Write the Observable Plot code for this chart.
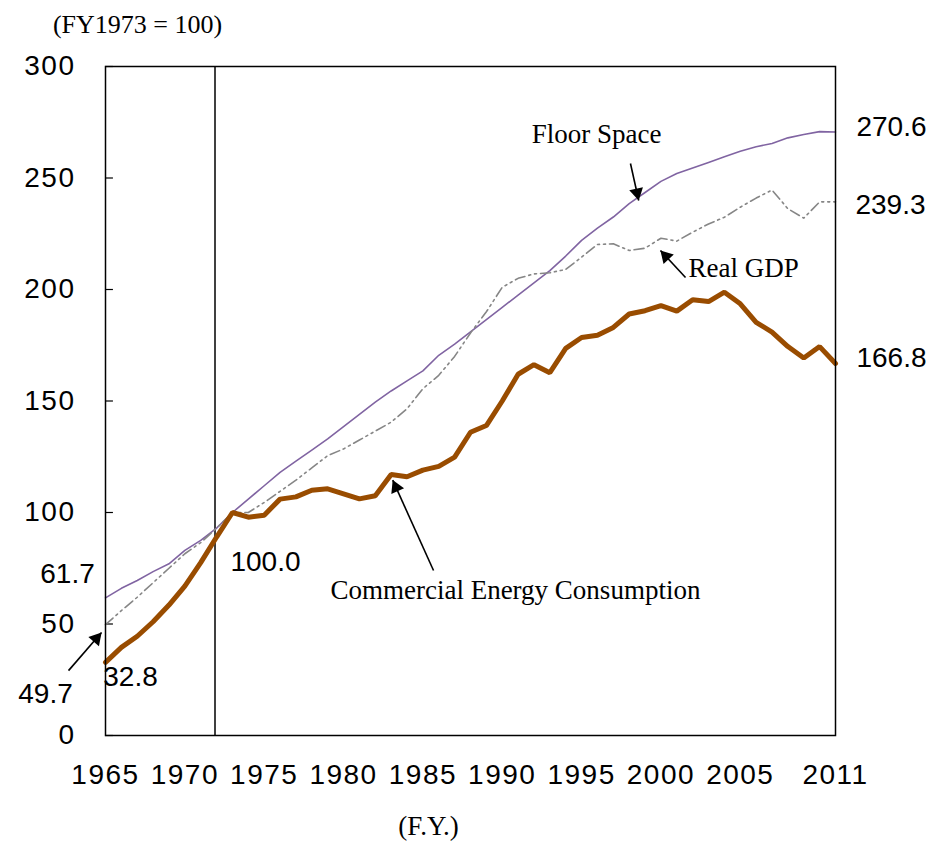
<!DOCTYPE html>
<html>
<head>
<meta charset="utf-8">
<script src="https://cdn.jsdelivr.net/npm/d3@7"></script>
<script src="https://cdn.jsdelivr.net/npm/@observablehq/plot@0.6"></script>
<style>
  html, body { margin: 0; padding: 0; background: #fff; }
  g[aria-label="value labels"] text,
  g[aria-label="y-axis tick label"] text,
  g[aria-label="x-axis tick label"] text { letter-spacing: 1.5px; }
</style>
</head>
<body>
<div id="chart"></div>
<script>
// ---- data (FY1973 = 100) ----
const years = d3.range(1965, 2012);
const floorSpace = [61.7, 66, 69.5, 73.5, 77, 83, 87.5, 93, 100, 106, 112, 118, 123, 128, 133, 138.5, 144, 149.5, 154.5, 159, 163.5, 170.5, 175.5, 181, 186.5, 192, 197.5, 203, 208.5, 215, 222, 227.5, 232.5, 238.5, 243.5, 248.5, 252, 254.5, 257, 259.5, 262, 264, 265.5, 268, 269.5, 270.8, 270.6];
const realGDP = [49.7, 56, 62, 68.5, 75, 81.5, 86.5, 93, 100, 100, 104.5, 109.5, 114.5, 120, 125.5, 128.5, 132.5, 136.5, 140.5, 146.5, 155.5, 161.5, 170, 180.5, 190, 201, 205, 207, 207.5, 209, 214.5, 220.2, 220.5, 217.5, 218.5, 223, 221.7, 225.7, 229.4, 232.4, 236.9, 241, 244.6, 236.2, 232, 239.3, 239.3];
const energy = [32.8, 39.5, 44.5, 51, 58.5, 67, 77.5, 89, 100, 97.9, 98.8, 106, 107, 110, 110.6, 108.4, 106.1, 107.5, 117, 116, 119, 120.7, 124.8, 136, 139, 150, 162, 166.3, 162.7, 173.6, 178.5, 179.5, 183, 189, 190.5, 192.8, 190.3, 195.4, 194.6, 198.8, 193.6, 185.3, 180.9, 174.4, 169.3, 174.4, 166.8];
const yTicks = [0, 50, 100, 150, 200, 250, 300];
const xTicks = [1965, 1970, 1975, 1980, 1985, 1990, 1995, 2000, 2005, 2011];
const seriesNames = ["Floor Space", "Real GDP", "Commercial Energy Consumption"];
const baseYear = 1973;
const markerYear = 1971.9;

const W = 937, H = 841, mL = 105, mR = 102, mT = 66, mB = 106;
const xDomain = [1965, 2011], yDomain = [0, 300];
const xs = Plot.scale({x: {domain: xDomain, range: [mL, W - mR]}});
const ys = Plot.scale({y: {domain: yDomain, range: [H - mB, mT]}});

const rows = arr => years.map((year, i) => ({year, value: arr[i]}));
const fmt = d3.format(".1f");
const last = years.length - 1;
const iBase = years.indexOf(baseYear);
const serif = "'Liberation Serif', 'Times New Roman', serif";

function valueLabel(year, value, dx, dy) {
  return Plot.text([{year, value}], {
    x: "year", y: "value", text: d => fmt(d.value), dx, dy,
    fontSize: 28, textAnchor: "middle", ariaLabel: "value labels"
  });
}
// arrow with a filled triangular head
function arrow(x1, y1, x2, y2) {
  const px1 = xs.apply(x1), py1 = ys.apply(y1), px2 = xs.apply(x2), py2 = ys.apply(y2);
  const len = Math.hypot(px2 - px1, py2 - py1);
  const ux = (px2 - px1) / len, uy = (py2 - py1) / len;
  const angle = Math.atan2(ux, -uy) * 180 / Math.PI;
  const back = 8;
  return [
    Plot.link([{x1, y1, x2, y2}], {x1: "x1", y1: "y1", x2: "x2", y2: "y2", stroke: "black", strokeWidth: 1.6}),
    Plot.dot([{x: x2, y: y2}], {x: "x", y: "y", symbol: "triangle", r: 5.2, fill: "black", stroke: "none",
      rotate: angle, dx: -ux * back, dy: -uy * back})
  ];
}

const chart = Plot.plot({
  width: W,
  height: H,
  marginLeft: mL,
  marginRight: mR,
  marginTop: mT,
  marginBottom: mB,
  style: "background:#fff; font-family:'Liberation Sans', Arial, sans-serif; font-size:28px; overflow:visible; display:block;",
  x: {domain: xDomain},
  y: {domain: yDomain},
  marks: [
    Plot.axisY({ticks: yTicks, tickSize: 0, tickPadding: 30, label: null, fontSize: 28}),
    Plot.axisX({ticks: xTicks, tickSize: 0, tickPadding: 29, tickFormat: d => String(d), label: null, fontSize: 28}),
    Plot.ruleY(yTicks, {x1: 1965, x2: 1965.5, stroke: "black", strokeWidth: 1.2}),
    Plot.ruleX([markerYear], {y1: 0, y2: 300, stroke: "black", strokeWidth: 1.5}),
    Plot.line(rows(floorSpace), {x: "year", y: "value", stroke: "#8064a2", strokeWidth: 1.6}),
    Plot.line(rows(realGDP), {x: "year", y: "value", stroke: "#868686", strokeWidth: 1.6, strokeDasharray: "10,4,2,4,2,4"}),
    Plot.line(rows(energy), {x: "year", y: "value", stroke: "#994c00", strokeWidth: 5, strokeLinejoin: "miter"}),
    Plot.frame({stroke: "black", strokeWidth: 1.5}),
    // value labels
    valueLabel(years[0], floorSpace[0], -38, -24),
    valueLabel(years[0], realGDP[0], -60, 69),
    valueLabel(years[0], energy[0], 25, 15),
    valueLabel(years[iBase], energy[iBase], 33, 50),
    valueLabel(years[last], floorSpace[last], 56, -5),
    valueLabel(years[last], realGDP[last], 55, 3),
    valueLabel(years[last], energy[last], 56, -6),
    // series annotations
    Plot.text([seriesNames[0]], {x: 1995.94, y: 269.5, text: d => d, fontFamily: serif, fontSize: 27, textAnchor: "middle"}),
    Plot.text([seriesNames[1]], {x: 2001.74, y: 209.4, text: d => d, fontFamily: serif, fontSize: 27, textAnchor: "start"}),
    Plot.text([seriesNames[2]], {x: 1990.83, y: 65, text: d => d, fontFamily: serif, fontSize: 27, textAnchor: "middle"}),
    arrow(1998.08, 256.5, 1998.6, 239.9),
    arrow(2001.55, 205.4, 1999.97, 217.5),
    arrow(1985.67, 74, 1983.1, 114.5),
    arrow(1962.67, 29.1, 1964.75, 46.2),
    // axis titles
    Plot.text(["(FY1973 = 100)"], {frameAnchor: "top-left", dx: 32, dy: -44, text: d => d, fontFamily: serif, fontSize: 26, textAnchor: "middle", lineAnchor: "bottom", dy: -34}),
    Plot.text(["(F.Y.)"], {frameAnchor: "bottom", dx: -42, dy: 99, text: d => d, fontFamily: serif, fontSize: 27, textAnchor: "middle"})
  ]
});
document.getElementById("chart").append(chart);
</script>
</body>
</html>
